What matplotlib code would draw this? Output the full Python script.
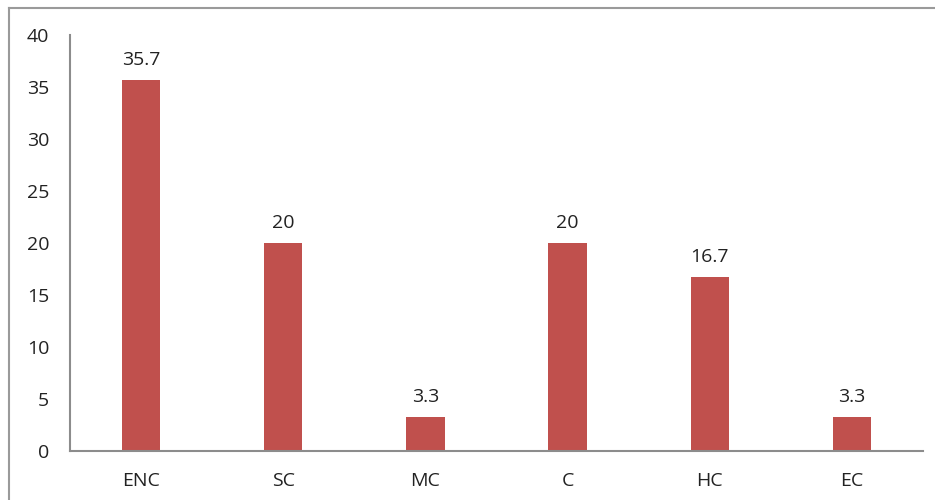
import matplotlib.pyplot as plt
from matplotlib.lines import Line2D

categories = ["ENC", "SC", "MC", "C", "HC", "EC"]
values = [35.7, 20, 3.3, 20, 16.7, 3.3]
labels = ["35.7", "20", "3.3", "20", "16.7", "3.3"]
yticks = [0, 5, 10, 15, 20, 25, 30, 35, 40]

plt.rcParams['font.family'] = ['Open Sans', 'DejaVu Sans']

fig = plt.figure(figsize=(9.35, 5.0), dpi=100)
ax = fig.add_axes([70/935, 1-451/500, (923-70)/935, (451-35)/500])

x = range(len(categories))
bars = ax.bar(x, values, width=0.27, color="#C0504D")
for b, lab in zip(bars, labels):
    ax.annotate(lab, (b.get_x() + b.get_width()/2, b.get_height()),
                xytext=(0, 8), textcoords="offset points",
                ha="center", va="bottom", fontsize=14, color="#222222")

ax.set_xlim(-0.5, len(categories) - 0.5)
ax.set_ylim(0, 40)
ax.set_yticks(yticks)
ax.set_xticks(list(x))
ax.set_xticklabels(categories)
ax.tick_params(axis="both", length=0, labelsize=14, labelcolor="#222222")
ax.tick_params(axis="y", pad=15)
ax.tick_params(axis="x", pad=15)

for s in ["top", "right"]:
    ax.spines[s].set_visible(False)
for s in ["left", "bottom"]:
    ax.spines[s].set_color("#8c8c8c")
    ax.spines[s].set_linewidth(1.5)

# outer frame (left and top edges visible)
fig.add_artist(Line2D([9/935, 9/935], [0, 1-8/500], transform=fig.transFigure,
                      color="#9a9a9a", lw=1.5))
fig.add_artist(Line2D([9/935, 1], [1-8/500, 1-8/500], transform=fig.transFigure,
                      color="#9a9a9a", lw=1.5))

fig.savefig("out.png", dpi=100)
